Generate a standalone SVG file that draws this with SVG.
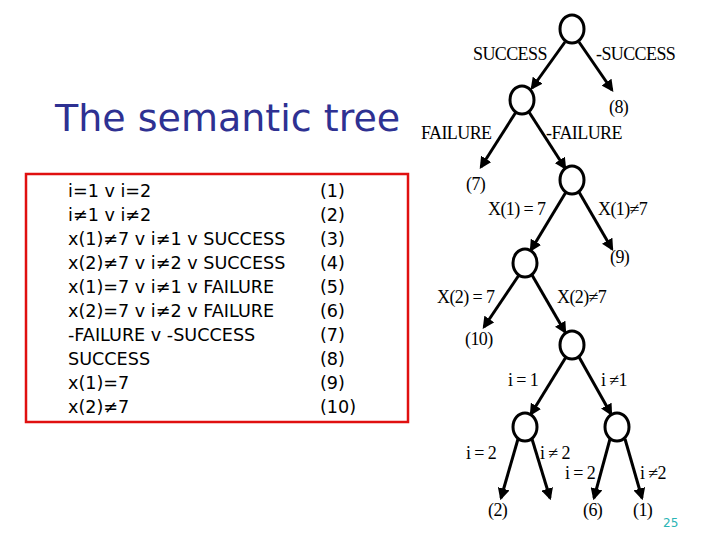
<svg xmlns="http://www.w3.org/2000/svg" width="720" height="540" viewBox="0 0 720 540">
<style>
.t{font-family:"DejaVu Sans","Liberation Sans",sans-serif;font-size:17.6px;fill:#000}
.s{font-family:"Liberation Serif",serif;font-size:18px;fill:#000;letter-spacing:-0.6px}
.n{fill:#fff;stroke:#000;stroke-width:3}
.e{stroke:#000;stroke-width:3;fill:none;marker-end:url(#a)}
</style>
<defs><marker id="a" viewBox="0 0 10 10" refX="8" refY="5" markerWidth="4" markerHeight="4" orient="auto"><path d="M0,0L10,5L0,10z" fill="#000"/></marker></defs>
<rect width="720" height="540" fill="#fff"/>
<text x="55" y="131" font-family="DejaVu Sans,sans-serif" font-size="38" fill="#2E3192">The semantic tree</text>
<rect x="26" y="174" width="382" height="248" fill="none" stroke="#e01010" stroke-width="2.5"/>
<g id="list" class="t">
<text x="68" y="197" class="t">i=1 v i=2</text>
<text x="68" y="221" class="t">i≠1 v i≠2</text>
<text x="68" y="245" class="t">x(1)≠7 v i≠1 v SUCCESS</text>
<text x="68" y="269" class="t">x(2)≠7 v i≠2 v SUCCESS</text>
<text x="68" y="293" class="t">x(1)=7 v i≠1 v FAILURE</text>
<text x="68" y="317" class="t">x(2)=7 v i≠2 v FAILURE</text>
<text x="68" y="341" class="t">-FAILURE v -SUCCESS</text>
<text x="68" y="365" class="t">SUCCESS</text>
<text x="68" y="389" class="t">x(1)=7</text>
<text x="68" y="413" class="t">x(2)≠7</text>
<text x="320" y="197" class="t">(1)</text>
<text x="320" y="221" class="t">(2)</text>
<text x="320" y="245" class="t">(3)</text>
<text x="320" y="269" class="t">(4)</text>
<text x="320" y="293" class="t">(5)</text>
<text x="320" y="317" class="t">(6)</text>
<text x="320" y="341" class="t">(7)</text>
<text x="320" y="365" class="t">(8)</text>
<text x="320" y="389" class="t">(9)</text>
<text x="320" y="413" class="t">(10)</text>
</g>
<g id="connectors">
<line class="e" x1="565" y1="42" x2="532" y2="88"/>
<line class="e" x1="579" y1="42" x2="612" y2="90"/>
<line class="e" x1="516" y1="112" x2="481" y2="167"/>
<line class="e" x1="529" y1="112" x2="565" y2="168"/>
<line class="e" x1="566" y1="192" x2="531" y2="250"/>
<line class="e" x1="579" y1="192" x2="612" y2="249"/>
<line class="e" x1="519" y1="275" x2="484" y2="327"/>
<line class="e" x1="532" y1="275" x2="565" y2="332"/>
<line class="e" x1="566" y1="357" x2="531" y2="414"/>
<line class="e" x1="579" y1="357" x2="611" y2="414"/>
<line class="e" x1="518" y1="439" x2="501" y2="498"/>
<line class="e" x1="532" y1="439" x2="550" y2="498"/>
<line class="e" x1="610" y1="439" x2="594" y2="498"/>
<line class="e" x1="625" y1="439" x2="642" y2="498"/>
</g>
<g id="n1"><ellipse class="n" cx="572" cy="29" rx="12" ry="14"/></g>
<g id="n2"><ellipse class="n" cx="522" cy="100" rx="12" ry="14"/></g>
<g id="n3"><ellipse class="n" cx="572" cy="180" rx="12" ry="14"/></g>
<g id="n4"><ellipse class="n" cx="525" cy="263" rx="12" ry="14"/></g>
<g id="n5"><ellipse class="n" cx="572" cy="345" rx="12" ry="14"/></g>
<g id="n6"><ellipse class="n" cx="525" cy="427" rx="12" ry="14"/></g>
<g id="n7"><ellipse class="n" cx="617" cy="427" rx="12" ry="14"/></g>
<g id="labels">
<text class="s" x="473" y="60">SUCCESS</text>
<text class="s" x="596" y="60">-SUCCESS</text>
<text class="s" x="609" y="113">(8)</text>
<text class="s" x="421" y="139">FAILURE</text>
<text class="s" x="546" y="139">-FAILURE</text>
<text class="s" x="466" y="190">(7)</text>
<text class="s" x="488" y="215">X(1) = 7</text>
<text class="s" x="598" y="215">X(1)≠7</text>
<text class="s" x="610" y="263">(9)</text>
<text class="s" x="437" y="303">X(2) = 7</text>
<text class="s" x="557" y="303">X(2)≠7</text>
<text class="s" x="465" y="345">(10)</text>
<text class="s" x="508" y="386">i = 1</text>
<text class="s" x="601" y="386">i ≠1</text>
<text class="s" x="466" y="459">i = 2</text>
<text class="s" x="540" y="459">i ≠ 2</text>
<text class="s" x="565" y="479">i = 2</text>
<text class="s" x="640" y="479">i ≠2</text>
<text class="s" x="488" y="516">(2)</text>
<text class="s" x="583" y="516">(6)</text>
<text class="s" x="633" y="516">(1)</text>
</g>
<text x="663" y="527" font-family="DejaVu Sans,sans-serif" font-size="12" fill="#2ab5b5">25</text>
</svg>
